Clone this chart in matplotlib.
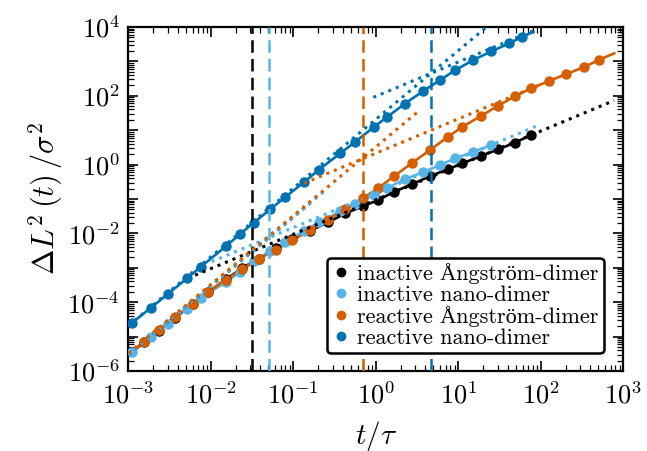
import matplotlib
matplotlib.use("Agg")
import matplotlib.pyplot as plt
import numpy as np
from matplotlib.lines import Line2D
from matplotlib.ticker import LogLocator, FuncFormatter, NullFormatter

plt.rcParams["font.family"] = ["cmr10", "Liberation Serif", "DejaVu Serif"]
plt.rcParams["mathtext.fontset"] = "cm"
plt.rcParams["axes.formatter.use_mathtext"] = True

# all values are log10 of t/tau and of Delta L^2 / sigma^2
# grid shared by the Angstrom-dimers
logt_a = [-2.81, -2.63, -2.43, -2.22, -2.03, -1.82, -1.62, -1.42, -1.21, -1.01,
          -0.80, -0.58, -0.37, -0.16, 0.03, 0.22, 0.44, 0.66, 0.87, 1.05,
          1.28, 1.48, 1.69, 1.88, 2.10, 2.31, 2.52, 2.70]
# grid shared by the nano-dimers
logt_b = [-2.96, -2.73, -2.52, -2.29, -2.12, -1.82, -1.65, -1.48, -1.28, -1.10,
          -0.87, -0.69, -0.43, -0.25, -0.02, 0.13, 0.35, 0.57, 0.78, 0.96,
          1.18, 1.40, 1.62, 1.77]

black_logy = [-5.17, -4.83, -4.45, -4.05, -3.71, -3.34, -3.01, -2.73, -2.43, -2.15,
              -1.93, -1.68, -1.42, -1.21, -1.03, -0.79, -0.57, -0.33, -0.14, 0.04,
              0.25, 0.44, 0.64, 0.86]
lightblue_logy = [-5.44, -5.00, -4.62, -4.19, -3.87, -3.42, -3.13, -2.80, -2.52, -2.25,
                  -1.93, -1.68, -1.36, -1.14, -0.87, -0.69, -0.43, -0.22, -0.01, 0.18,
                  0.37, 0.57]
orange_logy = [-5.15, -4.80, -4.43, -4.05, -3.70, -3.35, -3.04, -2.75, -2.47, -2.20,
               -1.91, -1.60, -1.30, -0.98, -0.68, -0.34, 0.05, 0.43, 0.80, 1.10,
               1.42, 1.71, 1.99, 2.215, 2.43, 2.635, 2.83, 3.04]
darkblue_logy = [-4.61, -4.17, -3.76, -3.31, -2.97, -2.38, -2.03, -1.69, -1.30, -0.95,
                 -0.51, -0.15, 0.33, 0.66, 1.10, 1.37, 1.77, 2.13, 2.46, 2.74,
                 3.04, 3.29, 3.53, 3.71]

# where the fitted solid curves start and end beyond the markers
line_start = {"black": (-3.0, -5.53), "lightblue": (-3.0, -5.53),
              "orange": (-3.0, -5.50), "darkblue": (-3.0, -4.70)}
line_end = {"black": None, "lightblue": None,
            "orange": (2.89, 3.235), "darkblue": (1.91, 3.86)}

# crossover times (dashed lines)
t_cross = {"black": 0.0318, "lightblue": 0.0507, "orange": 0.705, "darkblue": 4.67}

# dotted guide lines: (logt0, logy0, logt1, logy1)
guide_short = {"black": (-3.0, -5.53, -0.80, -1.13),
               "lightblue": (-3.0, -5.53, -0.60, -0.73),
               "orange": (-3.0, -5.485, 0.536, 1.587),
               "darkblue": (-3.0, -4.684, 1.40, 4.116)}
guide_long = {"black": (-2.19, -3.215, 2.887, 1.862),
              "lightblue": (-1.99, -2.82, 1.97, 1.14),
              "orange": (-0.87, -0.54, 2.00, 2.33),
              "darkblue": (-0.03, 1.955, 1.91, 3.894)}

labels = {"black": "inactive Ångström-dimer", "lightblue": "inactive nano-dimer",
          "orange": "reactive Ångström-dimer", "darkblue": "reactive nano-dimer"}
colors = {"black": "#000000", "lightblue": "#56B4E9",
          "orange": "#D55E00", "darkblue": "#0072B2"}

series = {
    "black": (logt_a[:len(black_logy)], black_logy),
    "lightblue": (logt_b[:len(lightblue_logy)], lightblue_logy),
    "orange": (logt_a[:len(orange_logy)], orange_logy),
    "darkblue": (logt_b[:len(darkblue_logy)], darkblue_logy),
}
order = ["black", "lightblue", "orange", "darkblue"]

fig = plt.figure(figsize=(6.47, 4.51), dpi=100)
ax = fig.add_axes([0.1983, 0.1774, 0.7651, 0.7627])

for k in order:
    lt, ly = series[k]
    c = colors[k]
    lx = list(lt)
    lyy = list(ly)
    if line_start[k] is not None:
        lx = [line_start[k][0]] + lx
        lyy = [line_start[k][1]] + lyy
    if line_end[k] is not None:
        lx = lx + [line_end[k][0]]
        lyy = lyy + [line_end[k][1]]
    ax.plot(10 ** np.array(lx), 10 ** np.array(lyy), "-", color=c, lw=1.9, zorder=2)
    ax.plot(10 ** np.array(lt), 10 ** np.array(ly), "o", color=c, ms=6.5, zorder=3)

for k in order:
    c = colors[k]
    for g in (guide_short[k], guide_long[k]):
        ax.plot([10 ** g[0], 10 ** g[2]], [10 ** g[1], 10 ** g[3]], ":",
                color=c, lw=2.2, zorder=4)
    ax.axvline(t_cross[k], color=c, ls=(0, (5, 2.5)), lw=1.8, zorder=4)

ax.set_xscale("log")
ax.set_yscale("log")
ax.set_xlim(1e-3, 1e3)
ax.set_ylim(1e-6, 1e4)

ax.xaxis.set_major_locator(LogLocator(base=10, numticks=20))
ax.yaxis.set_major_locator(LogLocator(base=10, numticks=20))
ax.xaxis.set_minor_locator(LogLocator(base=10, subs=np.arange(2, 10), numticks=100))
ax.yaxis.set_minor_locator(LogLocator(base=10, subs=np.arange(2, 10), numticks=100))
ax.xaxis.set_minor_formatter(NullFormatter())
ax.yaxis.set_minor_formatter(NullFormatter())
ax.xaxis.set_major_formatter(FuncFormatter(lambda v, p: r"$10^{%d}$" % round(np.log10(v))))
ax.yaxis.set_major_formatter(FuncFormatter(
    lambda v, p: r"$10^{%d}$" % round(np.log10(v)) if round(np.log10(v)) % 2 == 0 else ""))

ax.tick_params(which="both", direction="in", top=True, right=True, labelsize=19)
ax.tick_params(which="major", length=7, width=1.2)
ax.tick_params(axis="x", which="major", pad=8)
ax.tick_params(axis="y", which="major", pad=6)
ax.tick_params(which="minor", length=4, width=0.9)
for s in ax.spines.values():
    s.set_linewidth(1.6)

ax.set_xlabel(r"$t/\tau$", fontsize=21, labelpad=7)
ax.set_ylabel(r"$\Delta L^2\,(t)\,/\sigma^2$", fontsize=22, labelpad=2)

handles = [Line2D([], [], marker="o", ls="none", color=colors[k], ms=6) for k in order]
leg = ax.legend(handles, [labels[k] for k in order], loc="lower left",
                bbox_to_anchor=(0.401, 0.052), fontsize=16, frameon=True,
                fancybox=True, framealpha=1, edgecolor="black",
                handletextpad=0.3, handlelength=0.8, labelspacing=0.05,
                borderpad=0.25, borderaxespad=0.0)
leg.get_frame().set_linewidth(1.8)
leg.set_zorder(10)

fig.savefig("out.png", dpi=100)
